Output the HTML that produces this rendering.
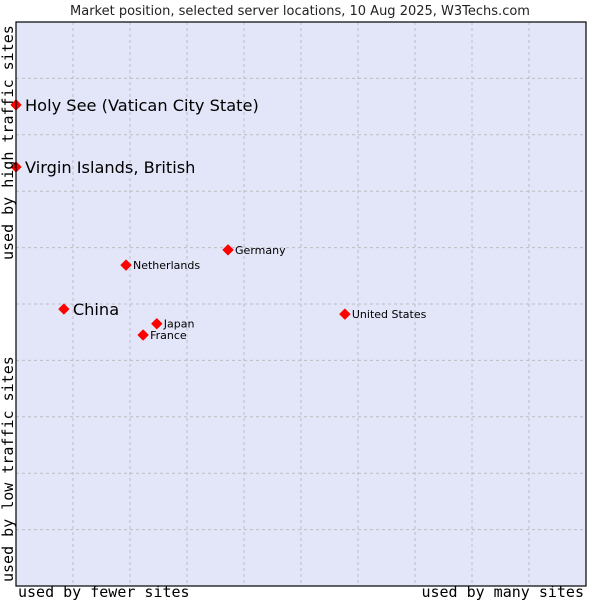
<!DOCTYPE html>
<html><head><meta charset="utf-8"><style>
html,body{margin:0;padding:0;background:#fff;}
svg{display:block;}
</style></head><body>
<svg id="chart" width="600" height="600" xmlns="http://www.w3.org/2000/svg">
<text x="300" y="15" text-anchor="middle" font-family="DejaVu Sans, sans-serif" font-size="13" fill="#222">Market position, selected server locations, 10 Aug 2025, W3Techs.com</text>
<rect x="16" y="22" width="570" height="564" fill="#e3e5f8" stroke="#000" stroke-width="1"/>
<g id="grid"></g>
<g id="points"></g>
<rect x="16" y="22" width="570" height="564" fill="none" stroke="#000" stroke-width="1.2"/>
<text x="18" y="597" font-family="DejaVu Sans Mono, Liberation Mono, monospace" font-size="15" fill="#000">used by fewer sites</text>
<text x="584" y="597" text-anchor="end" font-family="DejaVu Sans Mono, Liberation Mono, monospace" font-size="15" fill="#000">used by many sites</text>
<text transform="translate(13,582) rotate(-90)" font-family="DejaVu Sans Mono, Liberation Mono, monospace" font-size="15" fill="#000">used by low traffic sites</text>
<text transform="translate(13,260) rotate(-90)" font-family="DejaVu Sans Mono, Liberation Mono, monospace" font-size="15" fill="#000">used by high traffic sites</text>
</svg>
<script>
const names = ["Holy See (Vatican City State)","Virgin Islands, British","China","Netherlands","Germany","Japan","France","United States"];
const xValues = [0,0,8.4,19.3,37.2,24.7,22.3,57.7];
const yValues = [85.3,74.3,49.1,56.9,59.6,46.5,44.5,48.2];
const large = [true,true,true,false,false,false,false,false];
const L=16,T=22,W=570,H=564;
const xs=v=>L+v/100*W, ys=v=>T+H-v/100*H;
const NS="http://www.w3.org/2000/svg";
const grid=document.getElementById('grid');
for(let i=1;i<10;i++){
  const vx=document.createElementNS(NS,'line');
  vx.setAttribute('x1',xs(i*10));vx.setAttribute('x2',xs(i*10));vx.setAttribute('y1',T);vx.setAttribute('y2',T+H);
  vx.setAttribute('stroke','#bdbdc4');vx.setAttribute('stroke-dasharray','3,3');
  
  
  grid.appendChild(vx);
  const hy=document.createElementNS(NS,'line');
  hy.setAttribute('y1',ys(i*10));hy.setAttribute('y2',ys(i*10));hy.setAttribute('x1',L);hy.setAttribute('x2',L+W);
  hy.setAttribute('stroke','#bdbdc4');hy.setAttribute('stroke-dasharray','3,3');
  
  
  grid.appendChild(hy);
}
const pts=document.getElementById('points');
names.forEach((n,i)=>{
  const cx=xs(xValues[i]), cy=ys(yValues[i]);
  const d=document.createElementNS(NS,'path');
  const r=5;
  d.setAttribute('d',`M${cx-r},${cy} L${cx},${cy-r} L${cx+r},${cy} L${cx},${cy+r} Z`);
  d.setAttribute('fill','#f00');
  d.setAttribute('stroke','#f00');
  d.setAttribute('stroke-width','1');
  d.setAttribute('stroke-linejoin','round');
  
  
  pts.appendChild(d);
  const t=document.createElementNS(NS,'text');
  t.setAttribute('x',cx+(large[i]?9:7));
  t.setAttribute('y',cy+(large[i]?6:4));
  t.setAttribute('font-family','DejaVu Sans, sans-serif');
  t.setAttribute('font-size',large[i]?16.2:11);
  t.setAttribute('fill','#000');
  t.textContent=n;
  
  
  pts.appendChild(t);
});
</script>
</body></html>
